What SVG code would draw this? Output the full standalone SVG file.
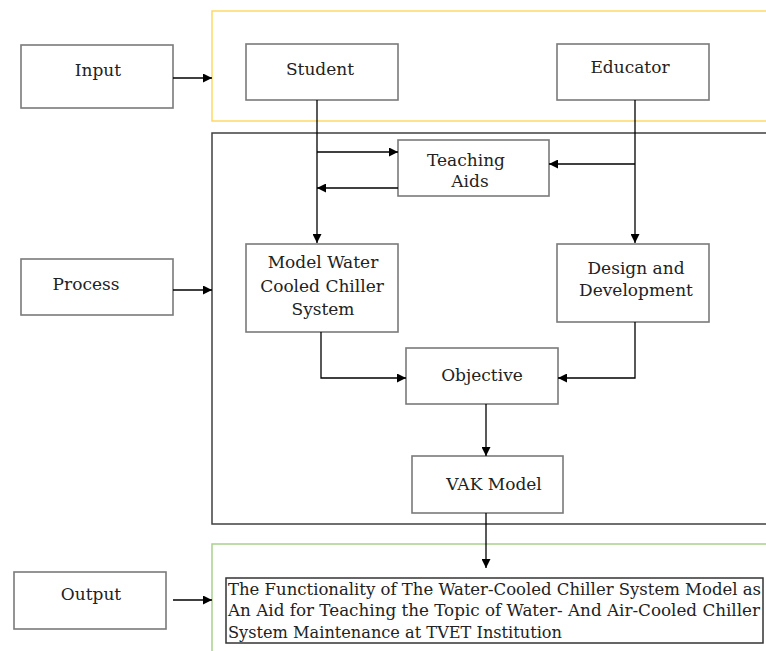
<svg xmlns="http://www.w3.org/2000/svg" width="766" height="651" viewBox="0 0 766 651">
<defs>
<marker id="arr" viewBox="0 0 10 10" refX="10" refY="5" markerUnits="userSpaceOnUse" markerWidth="10" markerHeight="9" orient="auto">
<path d="M0,0 L10,5 L0,10 z" fill="#000"/>
</marker>
<style>
.box{fill:#fff;stroke:#7a7a7a;stroke-width:1.6}
.t{font-size:17px;fill:#222;text-anchor:middle}
.b{font-size:16px;fill:#222}
.c{fill:none;stroke:#000;stroke-width:1.3;marker-end:url(#arr)}
.frame{fill:none;stroke-width:1.5}
</style>
</defs>
<rect width="766" height="651" fill="#fff"/>
<g id="frames">
<path class="frame" d="M780 11 H212 V121 H780" stroke="#ffd966"/>
<path class="frame" d="M780 133 H212 V524 H780" stroke="#404040"/>
<path class="frame" d="M780 544 H212 V660" stroke="#a9d18e"/>
</g>
<g font-family="DejaVu Serif, serif">
<g id="input"><rect class="box" x="21" y="45" width="152" height="63"/><text class="t" x="98" y="76">Input</text></g>
<g id="process"><rect class="box" x="21" y="259" width="152" height="56"/><text class="t" x="86" y="290">Process</text></g>
<g id="output"><rect class="box" x="14" y="572" width="152" height="57"/><text class="t" x="91" y="600">Output</text></g>
<g id="student"><rect class="box" x="246" y="44" width="152" height="56"/><text class="t" x="320" y="75">Student</text></g>
<g id="educator"><rect class="box" x="557" y="44" width="152" height="56"/><text class="t" x="630" y="73">Educator</text></g>
<g id="teaching-aids"><rect class="box" x="398" y="140" width="151" height="56"/><text class="t" x="466" y="166">Teaching</text><text class="t" x="470" y="187">Aids</text></g>
<g id="model"><rect class="box" x="246" y="244" width="152" height="88"/><text class="t" x="323" y="268">Model Water</text><text class="t" x="322" y="292">Cooled Chiller</text><text class="t" x="323" y="315">System</text></g>
<g id="design"><rect class="box" x="557" y="244" width="152" height="78"/><text class="t" x="636" y="274">Design and</text><text class="t" x="636" y="296">Development</text></g>
<g id="objective"><rect class="box" x="406" y="348" width="152" height="56"/><text class="t" x="482" y="381">Objective</text></g>
<g id="vak"><rect class="box" x="412" y="456" width="151" height="57"/><text class="t" x="494" y="490">VAK Model</text></g>
<g id="result"><rect x="226" y="578" width="537" height="65" fill="#fff" stroke="#333" stroke-width="1.5"/>
<text class="b" x="228" y="595" textLength="533" lengthAdjust="spacingAndGlyphs">The Functionality of The Water-Cooled Chiller System Model as</text>
<text class="b" x="228" y="616" textLength="532" lengthAdjust="spacingAndGlyphs">An Aid for Teaching the Topic of Water- And Air-Cooled Chiller</text>
<text class="b" x="228" y="638" textLength="334" lengthAdjust="spacingAndGlyphs">System Maintenance at TVET Institution</text></g>
</g>
<g id="connectors">
<path class="c" d="M173 78 H212"/>
<path class="c" d="M173 290 H212"/>
<path class="c" d="M173 600 H212"/>
<path class="c" d="M317 100 V243"/>
<path class="c" d="M317 152 H398"/>
<path class="c" d="M398 188 H317"/>
<path class="c" d="M635 100 V243"/>
<path class="c" d="M635 164 H549"/>
<path class="c" d="M321 332 V378 H406"/>
<path class="c" d="M635 322 V378 H558"/>
<path class="c" d="M486 404 V456"/>
<path class="c" d="M486 513 V568"/>
</g>
</svg>
